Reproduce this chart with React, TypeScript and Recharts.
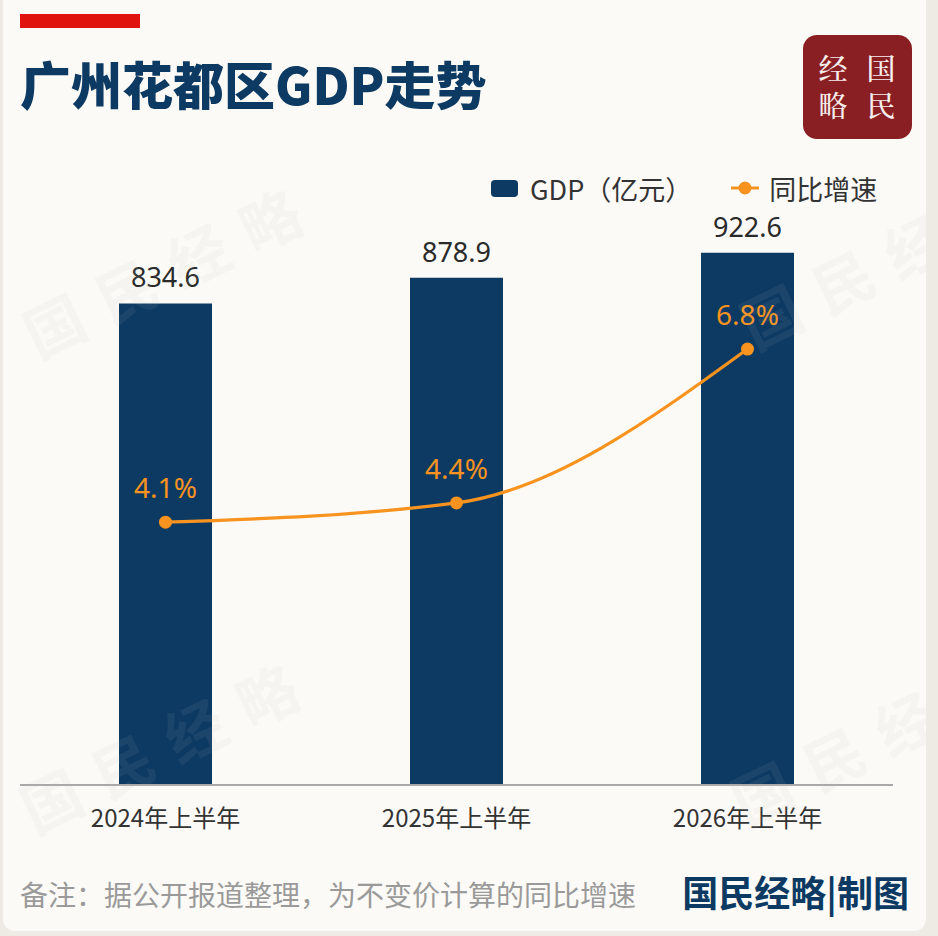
import React from 'react';
import { ComposedChart, Bar, Line, XAxis, YAxis, LabelList, Legend } from 'recharts';

const categories = ['2024年上半年', '2025年上半年', '2026年上半年'];
const gdpValues = [834.6, 878.9, 922.6];
const growthRates = [4.1, 4.4, 6.8];

const data = categories.map((name, i) => ({ name, gdp: gdpValues[i], rate: growthRates[i] }));

const CJK = '"Noto Sans CJK SC", "Noto Sans", sans-serif';
const LATIN = '"Noto Sans", "Noto Sans CJK SC", sans-serif';
const NAVY = '#0d3a63';
const ORANGE = '#f7931e';

const Tick = (props: any) => {
  const { x, y, payload } = props;
  return (
    <text x={x} y={y + 34} textAnchor="middle" fontSize={24} fill="#333" fontFamily={CJK}>
      {payload.value}
    </text>
  );
};

const BarLabel = (props: any) => {
  const { x, y, width, value } = props;
  return (
    <text x={x + width / 2} y={y - 16} textAnchor="middle" fontSize={27} fill="#2a2a2a" fontFamily={LATIN}>
      {Number(value).toFixed(1)}
    </text>
  );
};

const LineLabel = (props: any) => {
  const { x, y, value } = props;
  return (
    <text x={x} y={y - 24} textAnchor="middle" fontSize={28} fill={ORANGE} fontFamily={LATIN}>
      {Number(value).toFixed(1)}%
    </text>
  );
};

const renderLegend = () => (
  <div style={{ display: 'flex', alignItems: 'center', height: 36, fontFamily: CJK, fontSize: 27, color: '#333', whiteSpace: 'nowrap' }}>
    <span style={{ display: 'inline-block', width: 27, height: 17, background: NAVY, borderRadius: 4, marginRight: 12 }} />
    <span>GDP（亿元）</span>
    <svg width={28} height={16} style={{ marginLeft: 39, marginRight: 10 }}>
      <line x1={0} y1={8} x2={28} y2={8} stroke={ORANGE} strokeWidth={3} />
      <circle cx={14} cy={8} r={6.5} fill={ORANGE} />
    </svg>
    <span>同比增速</span>
  </div>
);

const watermarks = [
  { x: 170, y: 266 },
  { x: 167, y: 741 },
  { x: 887, y: 257 },
  { x: 878, y: 734 },
];

export default function App() {
  return (
    <div style={{ position: 'absolute', left: 0, top: 0, width: 938, height: 936, background: '#eeebe4', overflow: 'hidden' }}>
      <div style={{ position: 'absolute', left: 3, top: -12, width: 923, height: 943, background: '#fbfaf7', borderRadius: 12 }} />
      <svg width={938} height={936} style={{ position: 'absolute', left: 0, top: 0 }}>
        <rect x={20} y={14} width={120} height={14} fill="#e0130e" />
        <text x={20} y={105} fontSize={51} fontWeight={900} fill={NAVY} fontFamily={CJK}>广州花都区GDP走势</text>
        <rect x={803} y={35} width={109} height={104} rx={14} fill="#8a1f23" />
        <g fontSize={29} fontWeight={500} fill="#f6eded" fontFamily={'"Noto Serif CJK SC", "Noto Sans CJK SC", serif'} textAnchor="middle">
          <text x={833} y={80}>经</text>
          <text x={881} y={80}>国</text>
          <text x={833} y={117}>略</text>
          <text x={881} y={117}>民</text>
        </g>
        <text x={20} y={906} fontSize={28} fill="#9a9a9a" fontFamily={CJK}>备注：据公开报道整理，为不变价计算的同比增速</text>
        <text x={909} y={907} fontSize={36} fontWeight={700} fill={NAVY} fontFamily={CJK} textAnchor="end">国民经略|制图</text>
      </svg>
      <div style={{ position: 'absolute', left: 0, top: 0 }}>
        <ComposedChart width={938} height={936} data={data} margin={{ top: 208, right: 45, bottom: 121, left: 20 }}>
          <XAxis
            dataKey="name"
            height={30}
            axisLine={{ stroke: '#a9a9a9', strokeWidth: 2 }}
            tickLine={false}
            tick={<Tick />}
            interval={0}
          />
          <YAxis yAxisId="left" hide domain={[0, 1000]} />
          <YAxis yAxisId="right" orientation="right" hide domain={[0, 9]} />
          <Legend
            content={renderLegend}
            layout="horizontal"
            verticalAlign="middle"
            align="center"
            wrapperStyle={{ top: 170, left: 491, width: 420 }}
          />
          <Bar yAxisId="left" dataKey="gdp" name="GDP（亿元）" fill={NAVY} barSize={93} isAnimationActive={false}>
            <LabelList dataKey="gdp" content={<BarLabel />} />
          </Bar>
          <Line
            yAxisId="right"
            type="monotone"
            dataKey="rate"
            name="同比增速"
            stroke={ORANGE}
            strokeWidth={3.2}
            dot={{ r: 6.5, fill: ORANGE, stroke: ORANGE, strokeWidth: 0 }}
            activeDot={false}
            isAnimationActive={false}
          >
            <LabelList dataKey="rate" content={<LineLabel />} />
          </Line>
        </ComposedChart>
      </div>
      <div style={{ position: 'absolute', left: 3, top: 0, width: 923, height: 931, overflow: 'hidden', pointerEvents: 'none' }}>
        <svg width={923} height={931} style={{ position: 'absolute', left: 0, top: 0 }}>
          {watermarks.map((w, i) => (
            <text
              key={i}
              x={w.x - 3}
              y={w.y}
              transform={`rotate(-26 ${w.x - 3} ${w.y})`}
              textAnchor="middle"
              dominantBaseline="central"
              fontSize={60}
              fontWeight={700}
              letterSpacing={20}
              fill="rgba(185,185,185,0.09)"
              fontFamily={CJK}
            >
              国民经略
            </text>
          ))}
        </svg>
      </div>
    </div>
  );
}
